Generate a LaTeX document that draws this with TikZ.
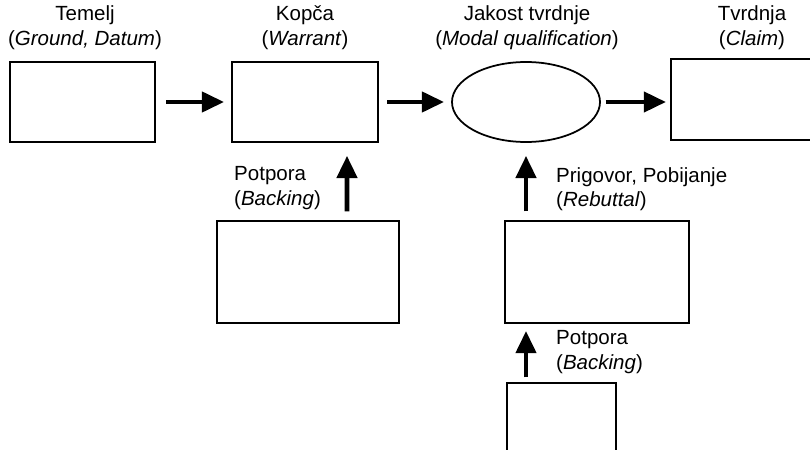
\documentclass[tikz,border=0pt]{standalone}
\usepackage{fontspec}
\setmainfont{Liberation Sans}
\usetikzlibrary{shapes.geometric, arrows.meta}
\tikzstyle{arrow} = [line width=4pt,-{Triangle[length=19pt,width=17pt]}]
\tikzstyle{box} = [draw,line width=1.5pt,inner sep=0pt]
\tikzstyle{lbl} = [inner sep=0pt]

\begin{document}
\begin{tikzpicture}[x=0.03cm,y=-0.03cm,font=\fontsize{17.5}{21}\selectfont]
	\useasboundingbox (0,0) rectangle (810,450);
	\clip (0,0) rectangle (810,450);
	
	% Top row: ground, warrant, qualifier, claim
	\node[box,minimum width=4.35cm,minimum height=2.4cm] (ground) at (82.5,102) {};
	\node[box,minimum width=4.38cm,minimum height=2.4cm] (warrant) at (305,102) {};
	\node[box,ellipse,minimum width=4.44cm,minimum height=2.4cm] (qual) at (526,102) {};
	\node[box,minimum width=4.38cm,minimum height=2.43cm] (claim) at (744,99.5) {};
	
	% Lower boxes
	\node[box,minimum width=5.46cm,minimum height=3.06cm] (backing) at (308,272) {};
	\node[box,minimum width=5.52cm,minimum height=3.06cm] (rebuttal) at (597,272) {};
	\node[box,minimum width=3.27cm,minimum height=3.06cm] (rebacking) at (561.5,434) {};
	
	% Labels
	\node[lbl,align=center] (groundlbl) at (85,27.5) {Temelj\\(\textit{Ground, Datum})};
	\node[lbl,align=center] (warrantlbl) at (305,27.5) {Kopča\\(\textit{Warrant})};
	\node[lbl,align=center] (quallbl) at (527,27.5) {Jakost tvrdnje\\(\textit{Modal qualification})};
	\node[lbl,align=center] (claimlbl) at (752,27.5) {Tvrdnja\\(\textit{Claim})};
	\node[lbl,align=left,anchor=west] (backinglbl) at (234,188) {Potpora\\(\textit{Backing})};
	\node[lbl,align=left,anchor=west] (rebuttallbl) at (556,189) {Prigovor, Pobijanje\\(\textit{Rebuttal})};
	\node[lbl,align=left,anchor=west] (rebackinglbl) at (556,352) {Potpora\\(\textit{Backing})};
	
	% Arrows
	\draw[arrow,shorten <=9pt,shorten >=6pt] (ground.east) -- (warrant.west);
	\draw[arrow,shorten <=7pt,shorten >=6pt] (warrant.east) -- (qual.west);
	\draw[arrow,shorten <=4pt,shorten >=3.5pt] (qual.east) -- (claim.west |- qual.east);
	\draw[arrow,shorten <=7.5pt,shorten >=11pt] ([xshift=1.17cm]backing.north) -- ([xshift=1.26cm]warrant.south);
	\draw[arrow,shorten <=7.5pt,shorten >=11pt] (rebuttal.north -| qual.south) -- (qual.south);
	\draw[arrow,shorten <=4pt,shorten >=6pt] (rebacking.north -| qual.south) -- (rebuttal.south -| qual.south);
	
\end{tikzpicture}
\end{document}
